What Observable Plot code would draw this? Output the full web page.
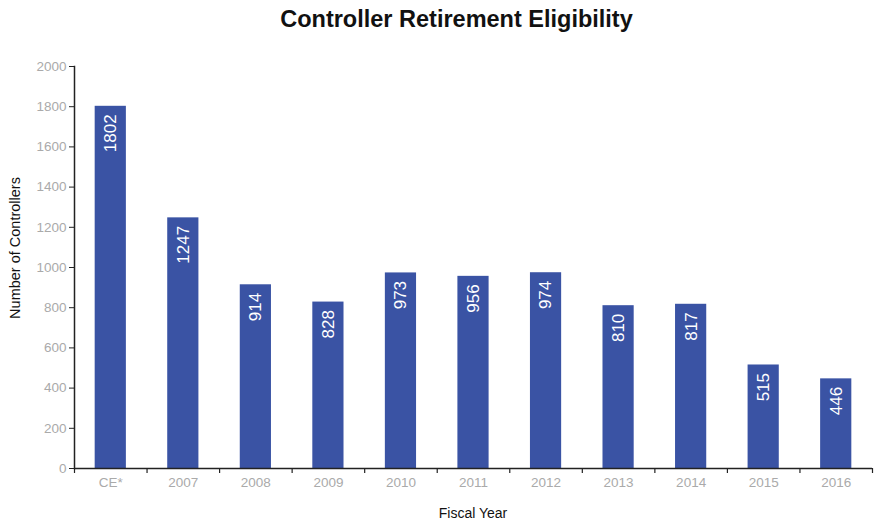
<!DOCTYPE html>
<html><head><meta charset="utf-8">
<script src="https://cdn.jsdelivr.net/npm/d3@7"></script>
<script src="https://cdn.jsdelivr.net/npm/@observablehq/plot@0.6"></script>
<style>
body{margin:0;background:#fff;font-family:"Liberation Sans",Arial,sans-serif;}
#title{height:40px;line-height:38px;text-align:center;font-weight:bold;font-size:23.5px;color:#111;padding-left:36px;box-sizing:border-box;}
</style></head>
<body>
<div id="title">Controller Retirement Eligibility</div>
<div id="chart"></div>
<script>
const categories = ["CE*","2007","2008","2009","2010","2011","2012","2013","2014","2015","2016"];
const controllers = [1802,1247,914,828,973,956,974,810,817,515,446];
const yTicks = [0,200,400,600,800,1000,1200,1400,1600,1800,2000];

const data = categories.map((c,i)=>({cat:c, value:controllers[i]}));
const W = 877, H = 483, ml = 74, mr = 5, mt = 26, mb = 55;
const plotH = H - mt - mb;
const step = (W - ml - mr) / categories.length;

const chart = Plot.plot({
  width: W, height: H,
  marginLeft: ml, marginRight: mr, marginTop: mt, marginBottom: mb,
  style: {fontFamily: '"Liberation Sans", Arial, sans-serif', background: "#fff"},
  x: {domain: categories, paddingInner: 0.57, paddingOuter: 0.285, round: false, label: null},
  y: {domain: [0, 2000], label: null},
  marks: [
    Plot.barY(data, {x: "cat", y: "value", fill: "#3a53a4"}),
    Plot.text(data, {x: "cat", y: "value", text: d => String(d.value), rotate: -90, textAnchor: "end", dy: 8, fill: "white", fontSize: 17}),
    Plot.axisY({ticks: yTicks, tickSize: 5, tickPadding: 3, fontSize: 13.5, color: "#aaa", stroke: "#222", tickFormat: d => String(d), label: null}),
    Plot.axisX({tickSize: 0, tickPadding: 9, fontSize: 13.5, color: "#aaa", label: null}),
    Plot.ruleX(categories, {x: d => d, dx: -step/2, insetTop: plotH, insetBottom: -5, stroke: "#222", strokeWidth: 1.2}),
    Plot.ruleX([categories[categories.length-1]], {x: d => d, dx: step/2, insetTop: plotH, insetBottom: -5, stroke: "#222", strokeWidth: 1.2}),
    Plot.ruleY([0], {stroke: "#222", strokeWidth: 1.5}),
    Plot.frame({anchor: "left", stroke: "#222", strokeWidth: 1.5})
  ]
});
const svg = d3.select(chart);
svg.append("text").attr("transform", `translate(20,208) rotate(-90)`)
  .attr("text-anchor","middle").attr("font-size",14.5).attr("fill","#111").text("Number of Controllers");
svg.append("text").attr("x", ml + (W-ml-mr)/2).attr("y", 478)
  .attr("text-anchor","middle").attr("font-size",14).attr("fill","#111").text("Fiscal Year");
document.getElementById("chart").appendChild(chart);
</script>
</body></html>
